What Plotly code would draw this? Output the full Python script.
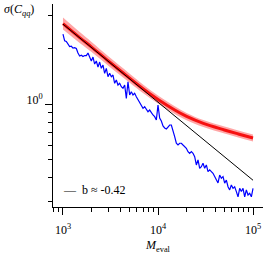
import numpy as np
import plotly.graph_objects as go

# ---- data ----
# blue: measured sigma(C_qq) at log-spaced evaluation sizes
m_eval = np.geomspace(1e3, 1e5, 115)
sigma_meas = [
    2.378, 2.187, 2.168, 2.089, 2.038, 2.045, 2.000, 2.008, 1.988, 1.880,
    1.811, 1.829, 1.800, 1.823, 1.823, 1.880, 1.767, 1.703, 1.789, 1.641,
    1.703, 1.580, 1.682, 1.556, 1.621, 1.462, 1.556, 1.402, 1.462, 1.402,
    1.432, 1.292, 1.346, 1.265, 1.292, 1.239, 1.214, 1.265, 1.073, 1.318,
    1.118, 1.164, 1.118, 1.142, 1.094, 1.051, 1.009, 0.988, 0.948, 0.967,
    0.928, 0.909, 0.928, 0.891, 0.873, 0.855, 0.820, 0.988, 0.841, 0.810,
    0.762, 0.743, 0.734, 0.752, 0.771, 0.771, 0.725, 0.667, 0.615, 0.602,
    0.615, 0.615, 0.602, 0.589, 0.578, 0.554, 0.543, 0.554, 0.543, 0.521,
    0.470, 0.500, 0.451, 0.460, 0.480, 0.451, 0.470, 0.433, 0.442, 0.433,
    0.424, 0.407, 0.390, 0.376, 0.415, 0.399, 0.407, 0.375, 0.390, 0.359,
    0.345, 0.367, 0.352, 0.359, 0.338, 0.317, 0.352, 0.338, 0.352, 0.317,
    0.345, 0.324, 0.331, 0.317, 0.352,
]

# red: model prediction with uncertainty band
m_model = [1000, 1500, 2000, 3000, 5000, 7000, 10000, 15000, 20000, 30000, 50000, 70000, 100000]
sigma_model = [2.709, 2.278, 2.025, 1.703, 1.380, 1.204, 1.057, 0.928, 0.857, 0.786, 0.725, 0.690, 0.656]
sigma_model_hi = [2.918, 2.437, 2.155, 1.805, 1.459, 1.269, 1.111, 0.973, 0.896, 0.821, 0.757, 0.720, 0.685]
sigma_model_lo = [2.515, 2.129, 1.903, 1.607, 1.306, 1.142, 1.006, 0.885, 0.819, 0.753, 0.694, 0.661, 0.628]

# black: power-law fit
fit_m = [1000, 100000]
fit_sigma = [2.69, 0.389]
fit_label = "b ≈ -0.42"

x_major = [1e3, 1e4, 1e5]
x_major_text = ["10<sup>3</sup>", "10<sup>4</sup>", "10<sup>5</sup>"]
x_minor = [800, 900] + [k * 1e3 for k in range(2, 10)] + [k * 1e4 for k in range(2, 10)]
y_major = [1]
y_major_text = ["10<sup>0</sup>"]
y_minor = [0.3, 0.4, 0.5, 0.6, 0.7, 0.8, 0.9, 2, 3]

FONT = "Liberation Serif, DejaVu Serif, serif"

fig = go.Figure()
fig.add_trace(go.Scatter(x=m_model, y=sigma_model_hi, mode="lines",
                         line=dict(width=0, shape="spline"), showlegend=False, hoverinfo="skip"))
fig.add_trace(go.Scatter(x=m_model, y=sigma_model_lo, mode="lines",
                         line=dict(width=0, shape="spline"), fill="tonexty",
                         fillcolor="rgba(255,0,0,0.35)", showlegend=False, hoverinfo="skip"))
fig.add_trace(go.Scatter(x=m_model, y=sigma_model, mode="lines",
                         line=dict(color="rgba(245,0,0,0.9)", width=3, shape="spline"),
                         showlegend=False))
fig.add_trace(go.Scatter(x=m_eval, y=sigma_meas, mode="lines",
                         line=dict(color="#0000ff", width=1.2), showlegend=False))
fig.add_trace(go.Scatter(x=fit_m, y=fit_sigma, mode="lines", name=fit_label,
                         line=dict(color="black", width=1), showlegend=False))

fig.add_annotation(text="—  " + fit_label, xref="paper", yref="paper",
                   x=0.04, y=0.085, xanchor="left", yanchor="middle",
                   showarrow=False, font=dict(family=FONT, size=12, color="black"))
fig.add_annotation(text="<i>σ</i>(<i>C</i><sub><i>qq</i></sub>)", xref="paper", yref="paper",
                   x=-0.245, y=1.02, xanchor="left", yanchor="top",
                   showarrow=False, font=dict(family=FONT, size=12, color="black"))
fig.add_annotation(text="<i>M</i><sub>eval</sub>", xref="paper", yref="paper",
                   x=0.5, y=-0.19, xanchor="center", yanchor="middle",
                   showarrow=False, font=dict(family=FONT, size=12, color="black"))

fig.update_layout(
    width=265, height=253,
    margin=dict(l=53, r=2, t=4, b=46),
    paper_bgcolor="white", plot_bgcolor="white",
    font=dict(family=FONT, size=12, color="black"),
    xaxis=dict(type="log", range=[2.895, 5.105], showgrid=False, zeroline=False,
               automargin=False,
               showline=True, linecolor="black", linewidth=1,
               tickmode="array", tickvals=x_major, ticktext=x_major_text,
               ticks="outside", ticklen=7, tickwidth=1, tickcolor="black",
               ticklabelstandoff=5,
               tickfont=dict(family=FONT, size=12),
               minor=dict(tickmode="array", tickvals=x_minor, ticks="outside",
                          ticklen=4, tickwidth=1, tickcolor="black", showgrid=False)),
    yaxis=dict(type="log", range=[-0.554, 0.538], showgrid=False, zeroline=False,
               automargin=False,
               showline=True, linecolor="black", linewidth=1,
               tickmode="array", tickvals=y_major, ticktext=y_major_text,
               ticks="outside", ticklen=7, tickwidth=1, tickcolor="black",
               ticklabelshift=-4,
               tickfont=dict(family=FONT, size=12),
               minor=dict(tickmode="array", tickvals=y_minor, ticks="outside",
                          ticklen=4, tickwidth=1, tickcolor="black", showgrid=False)),
)

fig.write_html("out.html", config={"displayModeBar": False},
               post_script="document.body.style.margin='0px';document.body.style.padding='0px';")
